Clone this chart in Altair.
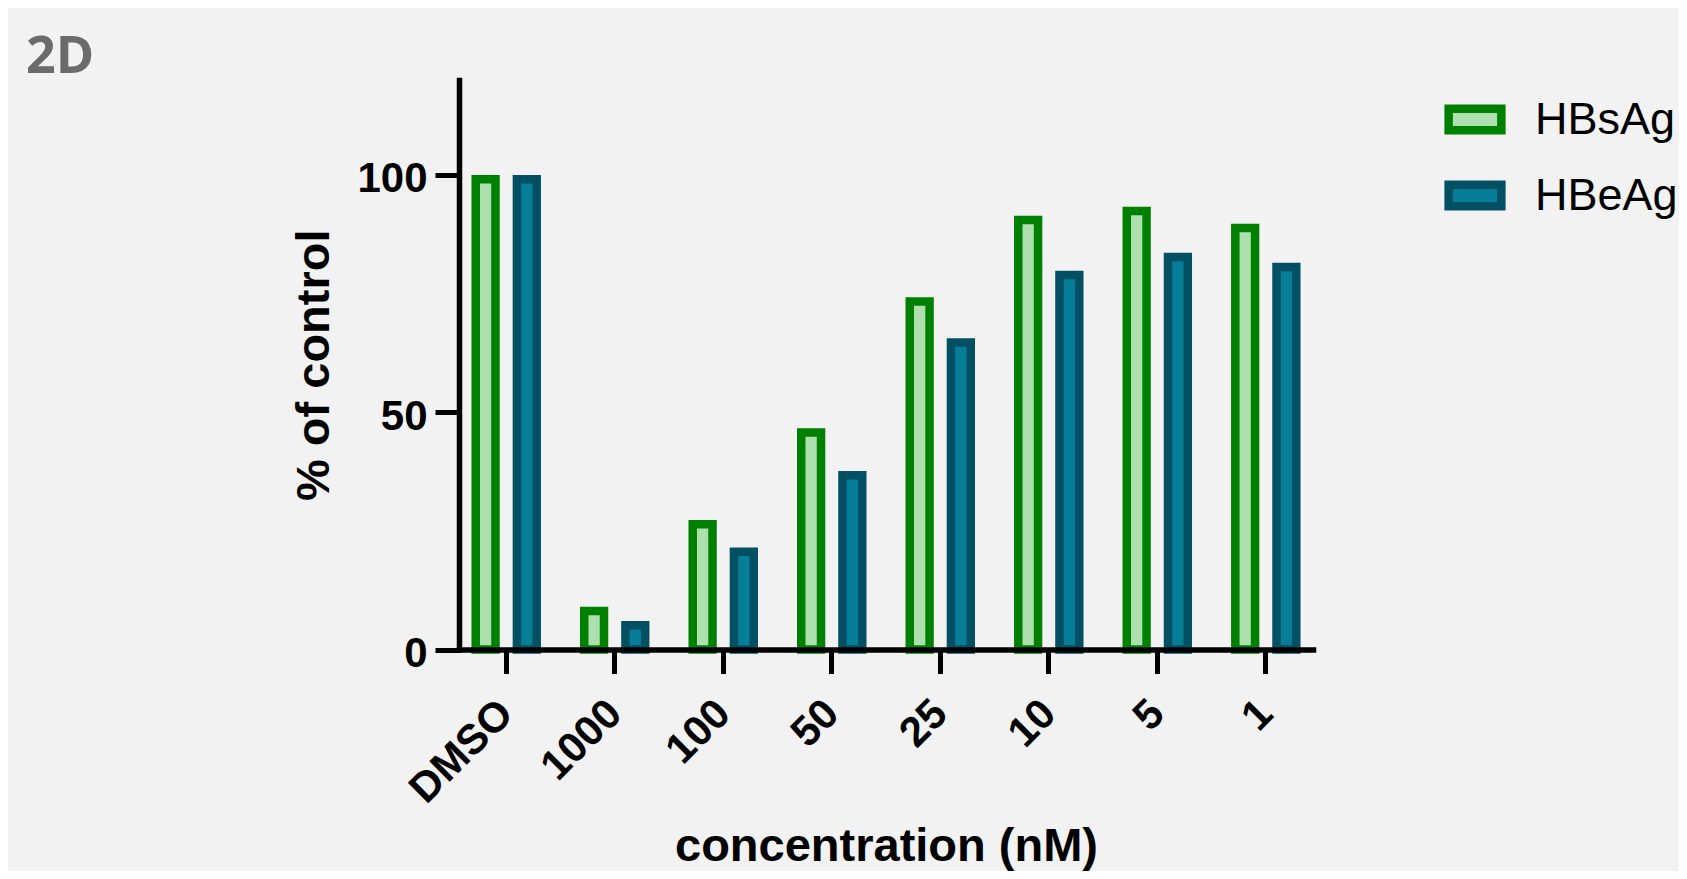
import altair as alt
import pandas as pd

# ---- data ----
concentrations = ["DMSO", "1000", "100", "50", "25", "10", "5", "1"]
hbsag_values = [100.0, 9.0, 27.3, 46.6, 74.2, 91.4, 93.3, 89.7]
hbeag_values = [100.0, 6.0, 21.5, 37.6, 65.6, 79.8, 83.6, 81.5]
series_names = ["HBsAg", "HBeAg"]
fill_colors = ["#AEDFAE", "#077E98"]
stroke_colors = ["#008000", "#034F64"]
y_ticks = [0, 50, 100]

rows = []
for c, s, e in zip(concentrations, hbsag_values, hbeag_values):
    rows.append({"conc": c, "series": series_names[0], "value": s})
    rows.append({"conc": c, "series": series_names[1], "value": e})
df = pd.DataFrame(rows)

SW = 8.5
W, H = 854, 569.5
FONT = "Liberation Sans"

legend = alt.Legend(
    title=None, orient="none", legendX=985, legendY=8.5, padding=0,
    symbolType="M-1,-0.41H1V0.41H-1Z", symbolSize=2777, symbolStrokeWidth=SW,
    symbolOpacity=1,
    labelFont=FONT, labelFontSize=45, labelColor="black", labelOffset=29,
    rowPadding=17,
)

x_axis = alt.Axis(
    title="concentration (nM)", titleFont=FONT, titleFontSize=47, titleFontWeight="bold",
    titleColor="black", titleX=W / 2, titleY=211, titleBaseline="alphabetic",
    titleAlign="center", titleAnchor="middle",
    labelAngle=-45, labelAlign="right", labelBaseline="middle",
    labelFont=FONT, labelFontSize=42, labelFontWeight="bold", labelColor="black",
    labelPadding=33, labelOverlap=False,
    tickSize=24, tickWidth=5, tickColor="black",
    domainWidth=5.5, domainColor="black", domainCap="square",
    grid=False, zindex=1,
)

y_axis = alt.Axis(
    values=y_ticks, title="% of control", titleFont=FONT, titleFontSize=47,
    titleFontWeight="bold", titleColor="black", titleX=-131, titleY=H / 2,
    titleAngle=-90, titleBaseline="alphabetic", titleAlign="center",
    labelFont=FONT, labelFontSize=42, labelFontWeight="bold", labelColor="black",
    labelPadding=8, labelOffset=4, labelBaseline="middle",
    tickSize=24, tickWidth=5, tickColor="black",
    domainWidth=5.5, domainColor="black", domainCap="square",
    grid=False, zindex=1,
)

bars = alt.Chart(df).mark_bar(
    strokeWidth=SW, yOffset=SW / 2, y2Offset=-SW / 2, opacity=1
).encode(
    x=alt.X("conc:N", sort=concentrations,
            scale=alt.Scale(paddingInner=0.438, paddingOuter=0.154), axis=x_axis),
    xOffset=alt.XOffset("series:N", sort=series_names,
                        scale=alt.Scale(paddingInner=0.52, paddingOuter=0)),
    y=alt.Y("value:Q", stack=None,
            scale=alt.Scale(domain=[0, 120], nice=False), axis=y_axis),
    fill=alt.Fill("series:N", sort=series_names,
                  scale=alt.Scale(domain=series_names, range=fill_colors), legend=legend),
    stroke=alt.Stroke("series:N", sort=series_names,
                      scale=alt.Scale(domain=series_names, range=stroke_colors), legend=legend),
)

chart = bars.properties(
    width=W, height=H,
    title=alt.Title("2D", anchor="start", frame="group", font="Open Sans", fontSize=52,
                    fontWeight="bold", color="#6B6B6B", baseline="alphabetic",
                    offset=0, dx=-433, dy=44.5),
    autosize=alt.AutoSizeParams(type="none"),
    padding={"left": 451, "top": 72, "right": 366, "bottom": 221.5},
    background="#F2F2F2",
).configure_view(stroke=None)

chart.save("out.html", embed_options={"renderer": "svg", "actions": False})
